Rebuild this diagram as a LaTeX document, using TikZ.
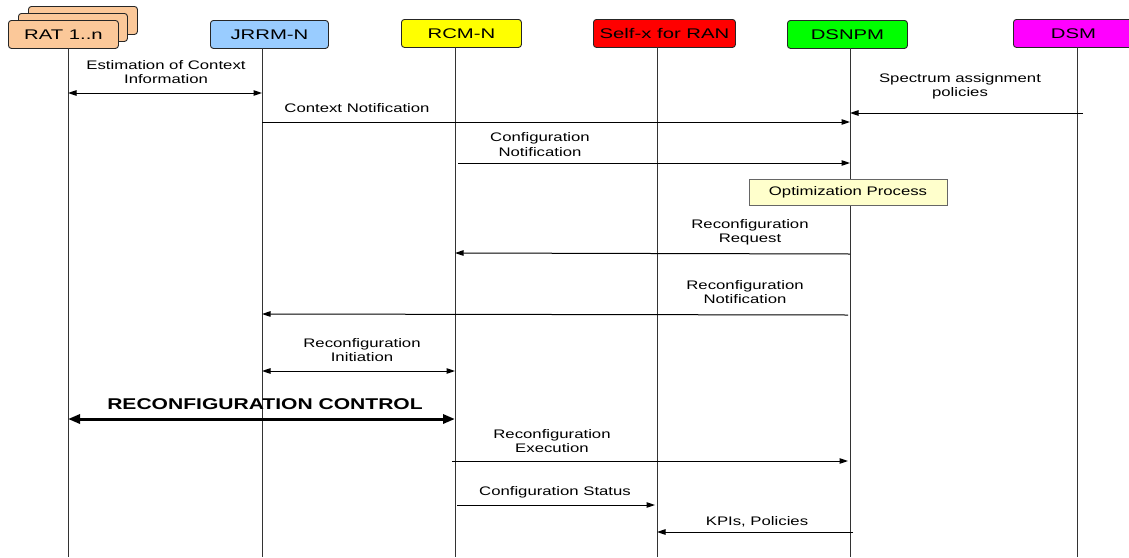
\documentclass[tikz,border=0pt]{standalone}
\usepackage{fontspec}
\setmainfont[FakeStretch=1.35]{Liberation Sans}
\newfontfamily\hdrfont[FakeStretch=1.45]{Liberation Sans}
\usetikzlibrary{arrows.meta}
\definecolor{ratc}{HTML}{FBC899}
\definecolor{jrrmc}{HTML}{99CCFF}
\definecolor{rcmc}{HTML}{FFFF00}
\definecolor{selfc}{HTML}{FF0000}
\definecolor{dsnpmc}{HTML}{00FF00}
\definecolor{dsmc}{HTML}{FF00FF}
\definecolor{optc}{HTML}{FFFFCC}
\begin{document}
\begin{tikzpicture}[x=1pt,y=-1pt,
  hdr/.style={draw=black!85,line width=0.9pt,rounded corners=3pt,minimum height=28pt,inner sep=0pt,font=\hdrfont\fontsize{14}{15}\selectfont},
  life/.style={draw=black!80,line width=0.9pt},
  lbl/.style={align=center,inner sep=0pt,font=\fontsize{12.4}{14.5}\selectfont},
  msg/.style={line width=1pt,-{Triangle[length=8.5pt,width=5.5pt]}},
  dmsg/.style={line width=1pt,{Triangle[length=8.5pt,width=5.5pt]}-{Triangle[length=8.5pt,width=5.5pt]}},
  tmsg/.style={line width=3pt,{Triangle[length=12pt,width=9pt]}-{Triangle[length=12pt,width=9pt]}}]
\useasboundingbox (0,0) rectangle (1129,557);
% header boxes
\node[hdr,fill=ratc,minimum width=109pt,anchor=north west] (rat3) at (28,6) {};
\node[hdr,fill=ratc,minimum width=109pt,anchor=north west] (rat2) at (18,13) {};
\node[hdr,fill=ratc,minimum width=110pt,anchor=north west] (rat) at (8,20) {RAT 1..n};
\node[hdr,fill=jrrmc,minimum width=118pt,anchor=north west] (jrrm) at (210,20) {JRRM-N};
\node[hdr,fill=rcmc,minimum width=120pt,anchor=north west] (rcm) at (401,19) {RCM-N};
\node[hdr,fill=selfc,minimum width=142pt,anchor=north west] (self) at (593,19) {Self-x for RAN};
\node[hdr,fill=dsnpmc,minimum width=120pt,anchor=north west] (dsnpm) at (787,20) {DSNPM};
\node[hdr,fill=dsmc,minimum width=130pt,anchor=north west] (dsm) at (1013,19) {\hspace*{-10pt}DSM};
% lifelines
\coordinate (Lrat) at (68,48);   \coordinate (Brat) at (68,557);
\coordinate (Ljrrm) at (262,48); \coordinate (Bjrrm) at (262,557);
\coordinate (Lrcm) at (455,47);  \coordinate (Brcm) at (455,557);
\coordinate (Lself) at (657,47); \coordinate (Bself) at (657,557);
\coordinate (Ldsnpm) at (850,48);\coordinate (Bdsnpm) at (850,557);
\coordinate (Ldsm) at (1077,47); \coordinate (Bdsm) at (1077,557);
\draw[life] (Lrat) -- (Brat);
\draw[life] (Ljrrm) -- (Bjrrm);
\draw[life] (Lrcm) -- (Brcm);
\draw[life] (Lself) -- (Bself);
\draw[life] (Ldsnpm) -- (Bdsnpm);
\draw[life] (Ldsm) -- (Bdsm);
% optimization box
\node[draw=black!60,fill=optc,line width=0.8pt,minimum width=198pt,minimum height=26pt,inner sep=0pt,font=\fontsize{12.4}{14}\selectfont] (opt) at (848,192) {Optimization Process};
% messages
\node[lbl] (t1) at (166,72) {Estimation of Context\\Information};
\draw[dmsg] (Lrat |- 0,93) -- (Ljrrm |- 0,93);
\node[lbl] (t2) at (357,108) {Context Notification};
\draw[msg] (Ljrrm |- 0,122) -- (Ldsnpm |- 0,122);
\node[lbl] (t3) at (960,86.5) {Spectrum assignment\\policies};
\draw[msg] ([xshift=6pt]Ldsm |- 0,113) -- (Ldsnpm |- 0,113);
\node[lbl] (t4) at (540,144.5) {Configuration\\Notification};
\draw[msg] ([xshift=3pt]Lrcm |- 0,163) -- (Ldsnpm |- 0,163);
\node[lbl] (t6) at (750,232.5) {Reconfiguration\\Request};
\draw[msg] (Ldsnpm |- 0,254) -- (Lrcm |- 0,253);
\node[lbl] (t7) at (745,292) {Reconfiguration\\Notification};
\draw[msg] ([xshift=-2pt]Ldsnpm |- 0,315) -- (Ljrrm |- 0,314);
\node[lbl] (t8) at (362,350) {Reconfiguration\\Initiation};
\draw[dmsg] (Ljrrm |- 0,371) -- (Lrcm |- 0,371);
\node[lbl,font=\bfseries\fontsize{15.6}{17}\selectfont] (t9) at (265,404) {RECONFIGURATION CONTROL};
\draw[tmsg] (Lrat |- 0,419) -- (Lrcm |- 0,419);
\node[lbl] (t10) at (552,441) {Reconfiguration\\Execution};
\draw[msg] ([xshift=-3pt]Lrcm |- 0,461) -- ([xshift=-2pt]Ldsnpm |- 0,461);
\node[lbl] (t11) at (555,492) {Configuration Status};
\draw[msg] ([xshift=2pt]Lrcm |- 0,505) -- ([xshift=-2pt]Lself |- 0,505);
\node[lbl] (t12) at (757,522) {KPIs, Policies};
\draw[msg] ([xshift=3pt]Ldsnpm |- 0,532) -- (Lself |- 0,532);
\end{tikzpicture}
\end{document}
